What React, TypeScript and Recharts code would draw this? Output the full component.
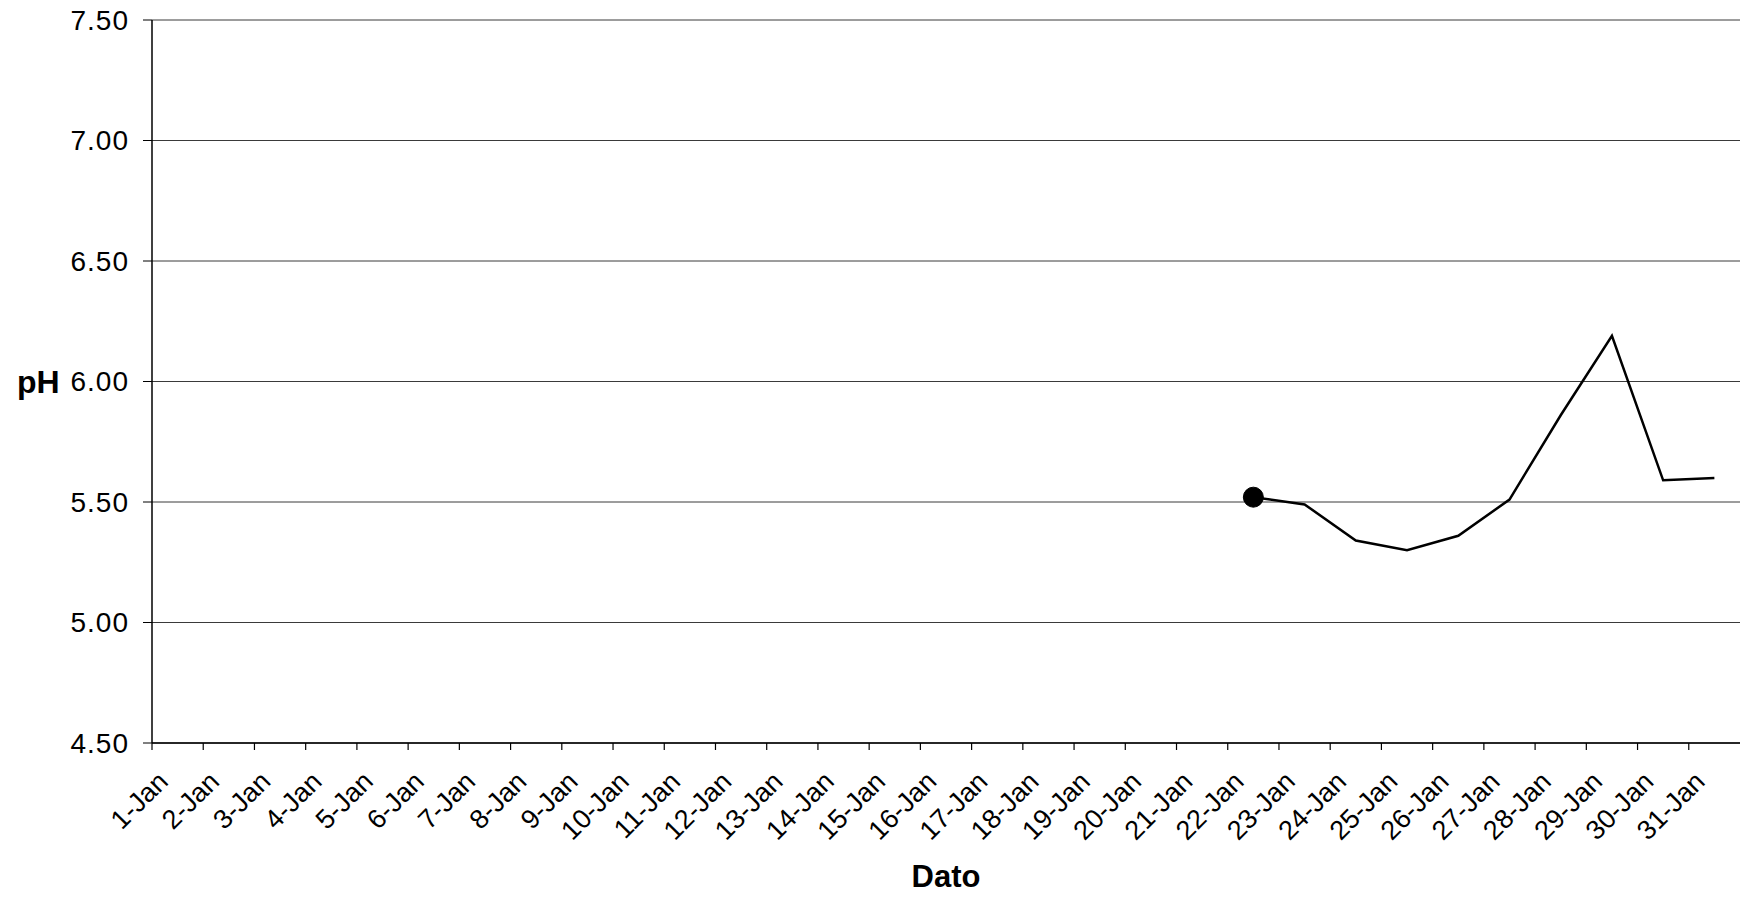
import React from 'react';
import { LineChart, Line, XAxis, YAxis, CartesianGrid, Label } from 'recharts';

const dayLabels = [
  '1-Jan', '2-Jan', '3-Jan', '4-Jan', '5-Jan', '6-Jan', '7-Jan', '8-Jan', '9-Jan', '10-Jan',
  '11-Jan', '12-Jan', '13-Jan', '14-Jan', '15-Jan', '16-Jan', '17-Jan', '18-Jan', '19-Jan', '20-Jan',
  '21-Jan', '22-Jan', '23-Jan', '24-Jan', '25-Jan', '26-Jan', '27-Jan', '28-Jan', '29-Jan', '30-Jan', '31-Jan',
];
const dayNumbers = [
  1, 2, 3, 4, 5, 6, 7, 8, 9, 10, 11, 12, 13, 14, 15, 16, 17, 18, 19, 20,
  21, 22, 23, 24, 25, 26, 27, 28, 29, 30, 31,
];
const phValues: (number | null)[] = [
  null, null, null, null, null, null, null, null, null, null,
  null, null, null, null, null, null, null, null, null, null,
  null, 5.52, 5.49, 5.34, 5.30, 5.36, 5.51, 5.86, 6.19, 5.59, 5.60,
];
const markedDays = ['22-Jan'];
const yTicks = [4.5, 5.0, 5.5, 6.0, 6.5, 7.0, 7.5];
const boundaryTicks = [
  0.5, 1.5, 2.5, 3.5, 4.5, 5.5, 6.5, 7.5, 8.5, 9.5, 10.5, 11.5, 12.5, 13.5, 14.5, 15.5,
  16.5, 17.5, 18.5, 19.5, 20.5, 21.5, 22.5, 23.5, 24.5, 25.5, 26.5, 27.5, 28.5, 29.5, 30.5,
];

const data = dayNumbers.map((d, i) => ({ day: d, label: dayLabels[i], ph: phValues[i] }));
const allXTicks = [...boundaryTicks, ...dayNumbers].sort((a, b) => a - b);

const FONT = 'Liberation Sans, Arial, sans-serif';

const DayTick = (props: any) => {
  const { x, y, payload } = props;
  const v = payload.value;
  if (boundaryTicks.includes(v)) {
    return <line x1={x} y1={y} x2={x} y2={y + 7} stroke="#000" strokeWidth={1.2} />;
  }
  const idx = dayNumbers.indexOf(v);
  const text = idx >= 0 ? dayLabels[idx] : '';
  const ax = x - 8;
  const ay = y + 40;
  return (
    <text
      x={ax}
      y={ay}
      transform={`rotate(-45, ${ax}, ${ay})`}
      textAnchor="end"
      fontFamily={FONT}
      fontSize={27}
      fill="#000"
    >
      {text}
    </text>
  );
};

const FirstDot = (props: any) => {
  const { cx, cy, payload } = props;
  if (payload && markedDays.includes(payload.label) && cx != null && cy != null) {
    return <circle key={`dot-${payload.label}`} cx={cx} cy={cy} r={10} fill="#000" stroke="#000" />;
  }
  return <g key={`nodot-${payload ? payload.label : 'x'}`} />;
};

export default function App() {
  return (
    <div style={{ position: 'absolute', left: 0, top: 0, width: 1740, height: 897, background: '#fff' }}>
      <LineChart
        width={1740}
        height={897}
        data={data}
        margin={{ top: 20, right: 0, left: 0, bottom: 0 }}
      >
        <CartesianGrid vertical={false} horizontal={true} stroke="#3a3a3a" strokeWidth={1} />
        <XAxis
          dataKey="day"
          type="number"
          domain={[0.5, 31.5]}
          ticks={allXTicks}
          interval={0}
          height={154}
          tick={DayTick}
          tickSize={0}
          tickMargin={0}
          tickLine={false}
          axisLine={{ stroke: '#000', strokeWidth: 1.5 }}
          allowDataOverflow
        >
          <Label
            value="Dato"
            position="insideBottom"
            offset={10}
            style={{ fontFamily: FONT, fontSize: 31, fontWeight: 'bold', fill: '#000' }}
          />
        </XAxis>
        <YAxis
          type="number"
          domain={[4.5, 7.5]}
          ticks={yTicks}
          interval={0}
          width={152}
          tickSize={9}
          tickMargin={14}
          tickFormatter={(v: number) => v.toFixed(2)}
          tick={{ fontFamily: FONT, fontSize: 28, fill: '#000', letterSpacing: 1 }}
          tickLine={{ stroke: '#000', strokeWidth: 1 }}
          axisLine={{ stroke: '#000', strokeWidth: 1.5 }}
          allowDataOverflow
        >
          <Label
            value="pH"
            position="insideLeft"
            offset={17}
            style={{ fontFamily: FONT, fontSize: 32, fontWeight: 'bold', fill: '#000', textAnchor: 'start' }}
          />
        </YAxis>
        <Line
          type="linear"
          dataKey="ph"
          stroke="#000"
          strokeWidth={2.5}
          dot={FirstDot}
          activeDot={false}
          connectNulls={false}
          isAnimationActive={false}
        />
      </LineChart>
    </div>
  );
}
